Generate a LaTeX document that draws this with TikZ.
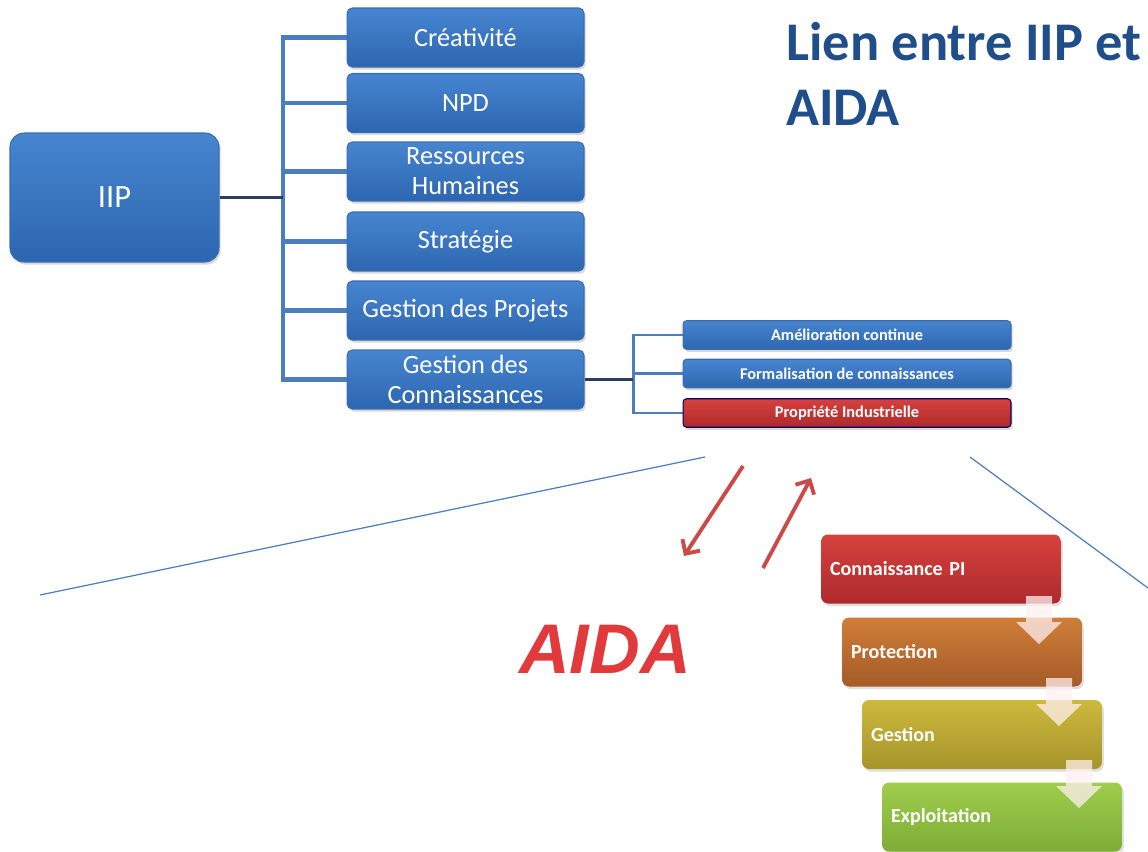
\documentclass[tikz,border=0pt]{standalone}
\usepackage{fontspec}
\setmainfont{Carlito}
\newfontfamily\aidafont{Liberation Sans}
\usetikzlibrary{arrows.meta,shadows}

\definecolor{bluetop}{HTML}{4785D0}
\definecolor{bluebot}{HTML}{2D66B0}
\definecolor{blueedge}{HTML}{3A6DAE}
\definecolor{linkblue}{HTML}{4A7EBF}
\definecolor{stemdark}{HTML}{2A3F5C}
\definecolor{titleblue}{HTML}{1F4E8A}
\definecolor{arrred}{HTML}{C94A47}
\definecolor{aidared}{HTML}{E03A3C}
\definecolor{redtop}{HTML}{D6413D}
\definecolor{redbot}{HTML}{AE2A2D}
\definecolor{orangetop}{HTML}{CE7E38}
\definecolor{orangebot}{HTML}{A65B28}
\definecolor{olivetop}{HTML}{CDB93C}
\definecolor{olivebot}{HTML}{A6942C}
\definecolor{greentop}{HTML}{9FCD4C}
\definecolor{greenbot}{HTML}{7DAD37}

\begin{document}
\begin{tikzpicture}[x=0.02cm, y=-0.02cm, >=Latex,
    boxbase/.style={rounded corners=3pt, draw=blueedge, line width=0.6pt, text=white,
        top color=bluetop, bottom color=bluebot, align=center, inner sep=0pt,
        drop shadow={opacity=0.3, shadow xshift=1pt, shadow yshift=-1.5pt}},
    bluebox/.style={boxbase, minimum width=4.74cm, minimum height=1.18cm,
        font=\fontsize{15}{17}\selectfont},
    iipbox/.style={boxbase, rounded corners=8pt, minimum width=4.18cm, minimum height=2.58cm,
        font=\fontsize{18.5}{21}\selectfont},
    subbox/.style={boxbase, rounded corners=2pt, minimum width=6.56cm, minimum height=0.57cm,
        font=\bfseries\fontsize{9.3}{10}\selectfont},
    redsub/.style={top color=redtop, bottom color=redbot, draw=blue!40!black},
    stage/.style={rounded corners=4pt, text=white, inner sep=0pt, inner xsep=0.18cm,
        minimum width=4.8cm, minimum height=1.38cm, text width=4.44cm, align=left,
        font=\bfseries\fontsize{11.4}{13}\selectfont,
        drop shadow={opacity=0.25, shadow xshift=1pt, shadow yshift=-1.5pt}},
    trunk/.style={draw=linkblue, line width=2.3pt},
    subtrunk/.style={draw=linkblue, line width=1.7pt},
    stem/.style={draw=stemdark, line width=2pt},
    zoomline/.style={draw=linkblue, line width=0.7pt},
    redarrow/.style={draw=arrred, line width=2.2pt, -{Straight Barb[length=6pt,width=12pt]}},
    downarrow/.style={fill=red!6, fill opacity=0.75}]
  \useasboundingbox (0,0) rectangle (1148,851);

  % IIP tree
  \coordinate (tr) at (283,197.5);
  \coordinate (sr) at (633,379.5);
  \foreach \y in {37.5,103,171.5,241.5,310.5,379.5}
    \draw[trunk] (tr) |- (465,\y);
  \foreach \y in {335,373.5,413}
    \draw[subtrunk] (sr) |- (847,\y);

  \node[iipbox] (iip) at (114.5,197.5) {IIP};
  \node[bluebox] (cre) at (465.5,37.5) {Créativité};
  \node[bluebox] (npd) at (465.5,103) {NPD};
  \node[bluebox] (rh) at (465.5,171.5) {Ressources\\Humaines};
  \node[bluebox] (str) at (465.5,241.5) {Stratégie};
  \node[bluebox] (gp) at (465.5,310.5) {Gestion des Projets};
  \node[bluebox] (gc) at (465.5,379.5) {Gestion des\\Connaissances};

  \node[subbox] (ac) at (847,335) {Amélioration continue};
  \node[subbox] (fc) at (847,373.5) {Formalisation de connaissances};
  \node[subbox, redsub] (pi) at (847,413) {Propriété Industrielle};

  \draw[stem] (iip.east) -- (tr);
  \draw[stem] (gc.east) -- (sr);

  % title
  \node[anchor=north west, inner sep=0pt, align=left, text=titleblue,
        font=\bfseries\fontsize{31}{37}\selectfont] (ttl) at (786,22) {Lien entre IIP et\\AIDA};

  % zoom lines
  \coordinate (l1a) at (705,457);
  \coordinate (l1b) at (40,595);
  \coordinate (l2a) at (970,457);
  \coordinate (l2b) at (1148,588);
  \draw[zoomline] (l1a) -- (l1b);
  \draw[zoomline] (l2a) -- (l2b);

  % red arrows
  \coordinate (a1) at (743,466);
  \coordinate (a2) at (684,556);
  \coordinate (b1) at (763,568);
  \coordinate (b2) at (811,478);
  \draw[redarrow] (a1) -- (a2);
  \draw[redarrow] (b1) -- (b2);

  \node[text=aidared, font=\aidafont\bfseries\itshape\fontsize{40}{40}\selectfont] (aida) at (605,649) {AIDA};

  % AIDA stages
  \node[stage, top color=redtop, bottom color=redbot] (cpi) at (941,569) {Connaissance PI};
  \node[stage, top color=orangetop, bottom color=orangebot] (prot) at (962,652) {Protection};
  \node[stage, top color=olivetop, bottom color=olivebot] (gest) at (982,734.5) {Gestion};
  \node[stage, top color=greentop, bottom color=greenbot] (expl) at (1002,817) {Exploitation};

  \foreach \i in {0,1,2}
    \fill[downarrow, shift={({20*\i},{82*\i})}] (1026,596) -- (1052,596) -- (1052,622) -- (1062,622)
      -- (1039,644) -- (1016,622) -- (1026,622) -- cycle;
\end{tikzpicture}
\end{document}
